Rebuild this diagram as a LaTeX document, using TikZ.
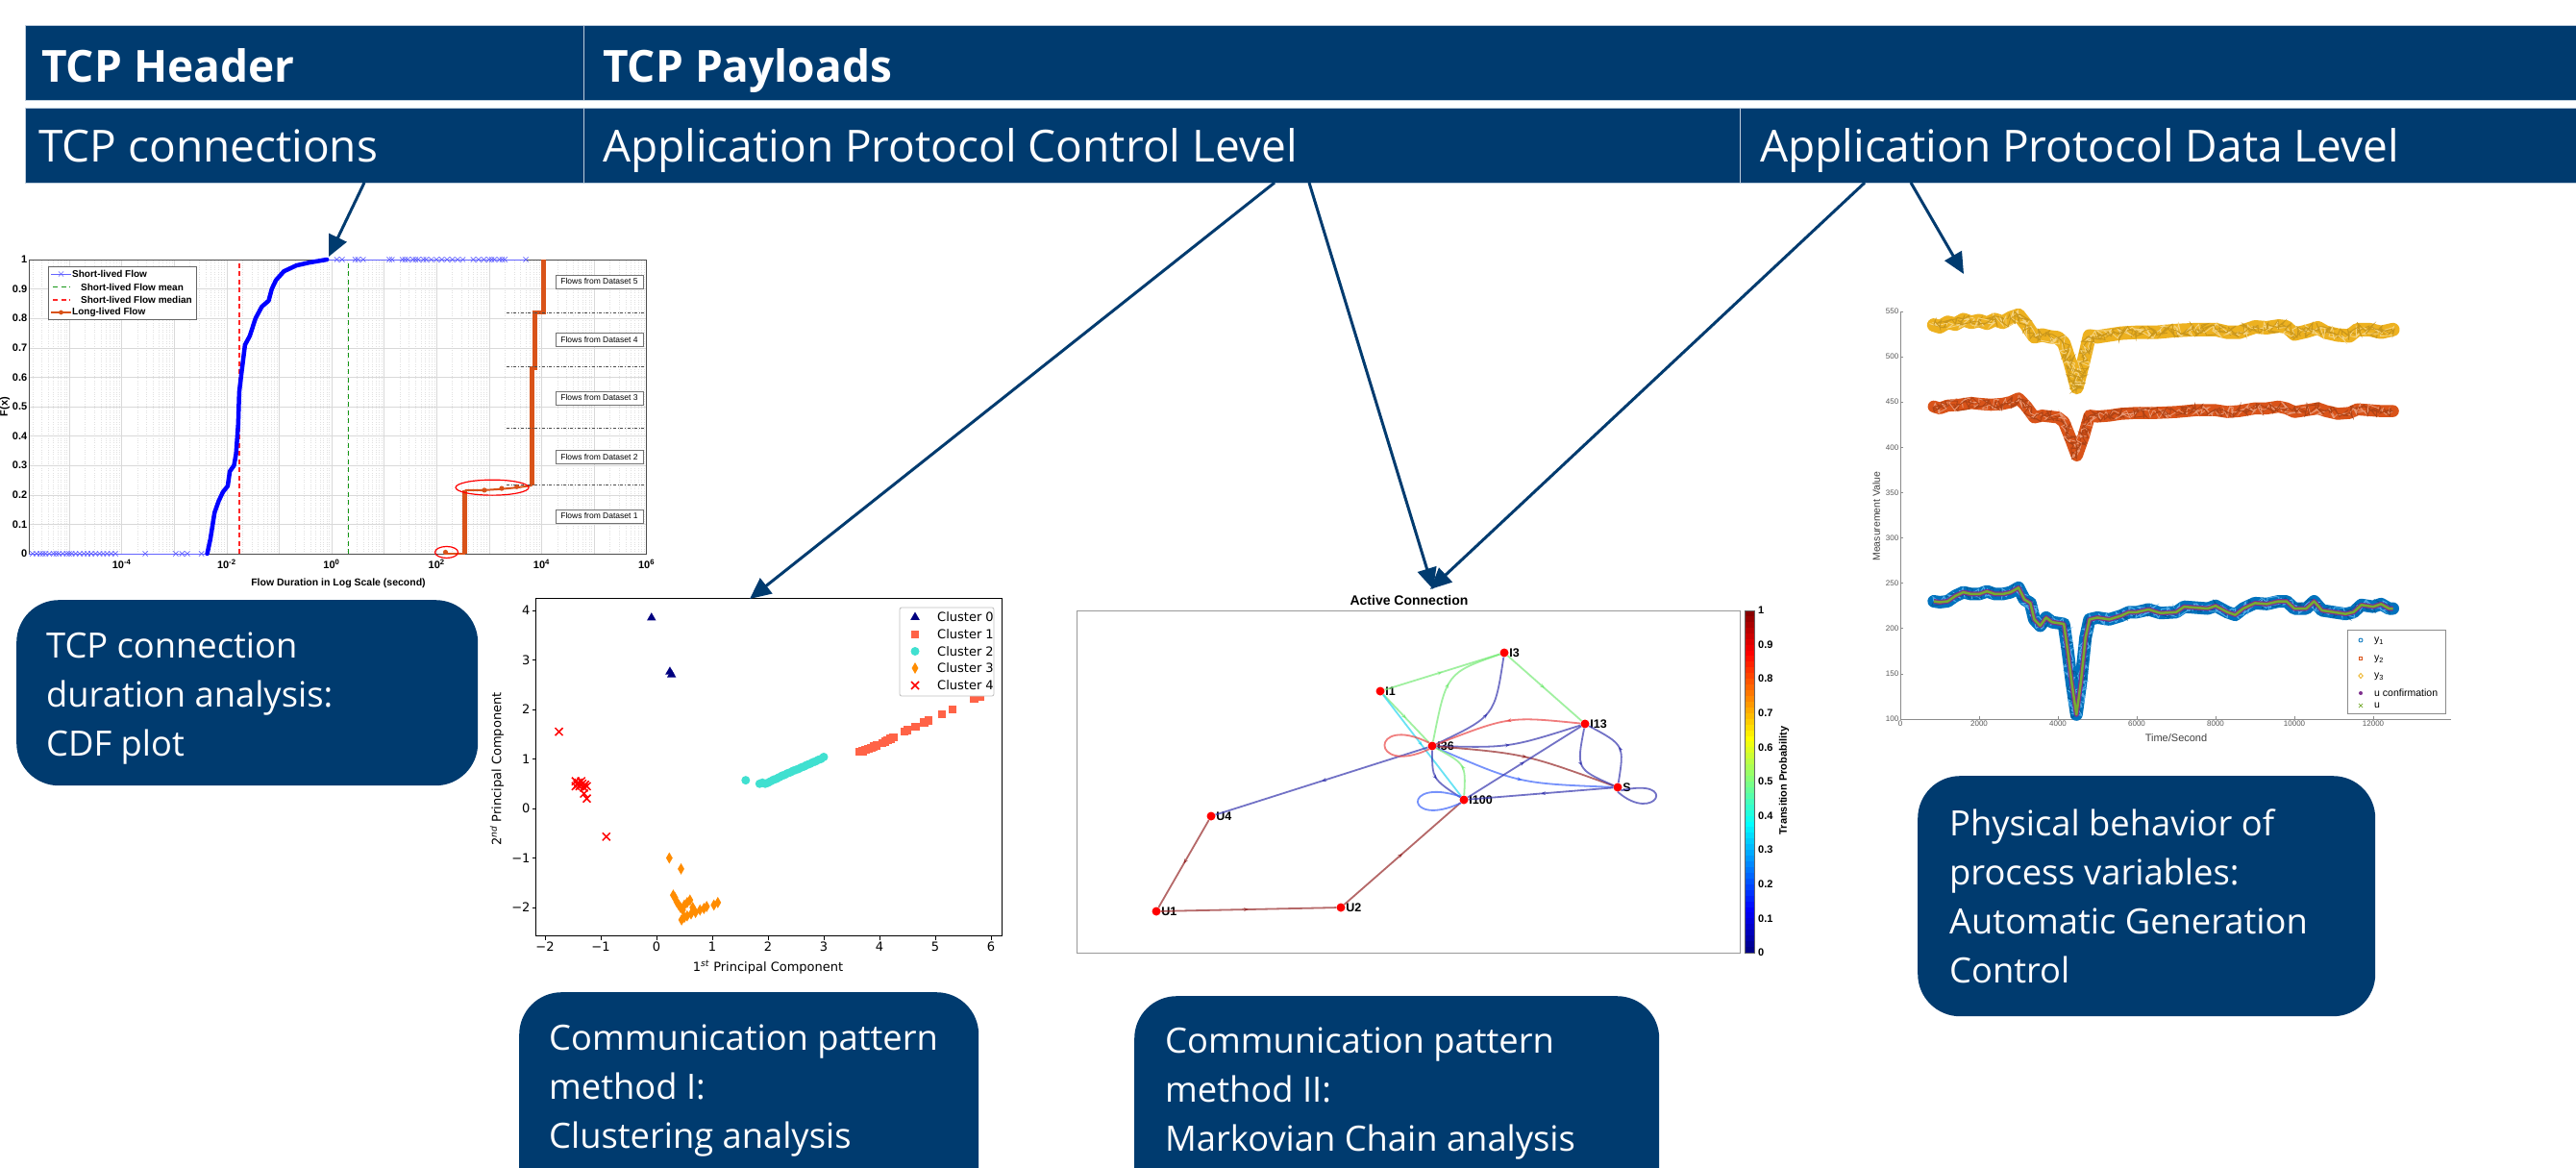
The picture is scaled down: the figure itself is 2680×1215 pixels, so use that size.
\documentclass[tikz,border=0pt]{standalone}
\usepackage{fontspec}
\setmainfont{Open Sans}
\newfontfamily\arialf{Liberation Sans}
\newfontfamily\mplf{DejaVu Sans}
\usetikzlibrary{arrows.meta,shapes.geometric,shapes.misc,decorations.pathmorphing,decorations.markings}

\newcommand\pxsize[1]{\fontsize{#1}{#1}\selectfont}

\definecolor{hdr}{RGB}{0,59,111}
\definecolor{hdredge}{RGB}{190,205,220}
\definecolor{mblue}{RGB}{0,0,255}
\definecolor{mlblue}{RGB}{100,100,255}
\definecolor{morange}{RGB}{217,83,25}
\definecolor{myellow}{RGB}{237,177,32}
\definecolor{mtblue}{RGB}{0,114,189}
\definecolor{mskyblue}{RGB}{80,170,230}
\definecolor{mpurple}{RGB}{126,47,142}
\definecolor{mgreen}{RGB}{119,172,48}
\definecolor{ctomato}{RGB}{255,99,71}
\definecolor{cturq}{RGB}{64,224,208}
\definecolor{corange}{RGB}{255,140,0}
\definecolor{cnavy}{RGB}{0,0,128}
\definecolor{jgreen}{RGB}{120,235,120}
\definecolor{jnavy}{RGB}{55,55,175}
\definecolor{jred}{RGB}{235,70,70}
\definecolor{jdred}{RGB}{150,40,40}
\definecolor{jcyan}{RGB}{40,215,240}
\definecolor{jblue}{RGB}{60,100,250}
\definecolor{medred}{RGB}{255,40,40}
\definecolor{meangreen}{RGB}{20,150,20}

\begin{document}
\begin{tikzpicture}[x=1pt,y=-1pt,
  cell/.style={anchor=north west, fill=hdr, draw=hdredge, line width=1.2pt, inner sep=0pt, minimum height=78pt},
  hdrtext/.style={anchor=base west, inner sep=0pt, text=white, font=\pxsize{46}},
  hdrbold/.style={anchor=base west, inner sep=0pt, text=white, font=\pxsize{46}\bfseries},
  descbox/.style={anchor=north west, fill=hdr, rounded corners=44pt, inner sep=0pt},
  desctext/.style={anchor=base west, inner sep=0pt, text=white, font=\fontsize{36.3}{51}\selectfont},
  linkarrow/.style={draw=hdr, line width=3pt, -{Triangle[length=22pt,width=20pt]}},
  % CDF plot
  cdfminor/.style={draw=black!12, line width=0.4pt, dotted},
  cdfmajor/.style={draw=black!15, line width=0.5pt},
  cdftick/.style={font=\arialf\bfseries\pxsize{11}, inner sep=1.5pt},
  cdfx/.style={cross out, draw=mlblue, minimum size=4.5pt, inner sep=0pt, line width=0.7pt},
  dsbox/.style={draw=black!55, fill=white, font=\arialf\pxsize{8.5}, minimum width=91pt, minimum height=14pt, inner sep=1pt},
  cdflegend/.style={font=\arialf\bfseries\pxsize{10}, anchor=west, inner sep=0pt},
  meddash/.style={medred, line width=1.3pt, dash pattern=on 5pt off 3.5pt},
  meandash/.style={meangreen, line width=1.3pt, dash pattern=on 5pt off 3.5pt},
  % scatter plot
  mpltick/.style={font=\mplf\pxsize{13}, inner sep=2pt},
  ctri/.style={regular polygon, regular polygon sides=3, fill=cnavy, minimum size=11pt, inner sep=0pt},
  csq/.style={rectangle, fill=ctomato, minimum size=8.5pt, inner sep=0pt},
  ccirc/.style={circle, fill=cturq, minimum size=9pt, inner sep=0pt},
  cdia/.style={diamond, fill=corange, minimum width=7pt, minimum height=12pt, inner sep=0pt},
  cx/.style={cross out, draw=red, minimum size=6.5pt, inner sep=0pt, line width=1.5pt},
  % Markov chain
  mknode/.style={circle, fill=red, minimum size=9pt, inner sep=0pt},
  mklabel/.style={font=\arialf\bfseries\pxsize{12.5}, inner sep=0.5pt},
  mkedge/.style={line width=1.8pt, draw opacity=0.7, postaction={decorate},
    decoration={markings, mark=at position 0.5 with {\arrow{Stealth[length=5pt,width=4pt]}}}},
  mkloop/.style={line width=1.8pt, draw opacity=0.7},
  % time series
  tsaxis/.style={draw=black!45, line width=0.7pt},
  tstick/.style={font=\arialf\pxsize{8}, text=black!65, inner sep=1.5pt},
  ythreeband/.style={myellow, line width=14pt, line join=round, line cap=round},
  ythreenoiseA/.style={myellow!85!black, line width=0.9pt, decorate, decoration={random steps, segment length=2.5pt, amplitude=7pt}},
  ythreenoiseB/.style={myellow!55!white, line width=0.8pt, decorate, decoration={random steps, segment length=2pt, amplitude=7pt}},
  ytwoband/.style={morange, line width=12.5pt, line join=round, line cap=round},
  ytwonoiseA/.style={morange!80!black, line width=0.9pt, decorate, decoration={random steps, segment length=2.5pt, amplitude=6pt}},
  ytwonoiseB/.style={morange!60!white, line width=0.8pt, decorate, decoration={random steps, segment length=2pt, amplitude=6pt}},
  yoneband/.style={mtblue, line width=13pt, line join=round, line cap=round},
  yonenoiseA/.style={mskyblue, line width=1pt, decorate, decoration={random steps, segment length=2.5pt, amplitude=6pt}},
  yonenoiseB/.style={mtblue!80!black, line width=0.8pt, decorate, decoration={random steps, segment length=2pt, amplitude=6pt}},
  yonepurple/.style={mpurple, line width=5pt, line join=round},
  yonegreen/.style={mgreen, line width=2.5pt, line join=round},
  tslegend/.style={font=\arialf\pxsize{10.5}, anchor=west, inner sep=0pt}
]
\clip (0,0) rectangle (2680,1215);
\fill[white] (0,0) rectangle (2680,1215);
\pgfmathsetseed{11}

% ---------------- header table ----------------
\node[cell, minimum width=581pt] (cHeader) at (26,26) {};
\node[cell, minimum width=2100pt] (cPayload) at (607,26) {};
\node[cell, minimum width=581pt] (cConn) at (26,112) {};
\node[cell, minimum width=1203pt] (cCtrl) at (607,112) {};
\node[cell, minimum width=900pt] (cData) at (1810,112) {};
\node[hdrbold] (tHeader) at (43,85) {TCP Header};
\node[hdrbold] (tPayload) at (627,85) {TCP Payloads};
\node[hdrtext] (tConn) at (40,168) {TCP connections};
\node[hdrtext] (tCtrl) at (627,168) {Application Protocol Control Level};
\node[hdrtext] (tData) at (1831,168) {Application Protocol Data Level};

% ---------------- description boxes ----------------
\node[descbox, minimum width=480pt, minimum height=193pt] (dCdf) at (17,624) {};
\node[desctext] (dCdfText) at (48,684) {\begin{tabular}[t]{@{}l@{}}TCP connection\\duration analysis:\\CDF plot\end{tabular}};
\node[descbox, minimum width=478pt, minimum height=260pt] (dClu) at (540,1032) {};
\node[desctext] (dCluText) at (571,1092) {\begin{tabular}[t]{@{}l@{}}Communication pattern\\method I:\\Clustering analysis\end{tabular}};
\node[descbox, minimum width=546pt, minimum height=260pt] (dMkv) at (1180,1036) {};
\node[desctext] (dMkvText) at (1212,1095) {\begin{tabular}[t]{@{}l@{}}Communication pattern\\method II:\\Markovian Chain analysis\end{tabular}};
\node[descbox, minimum width=476pt, minimum height=250pt] (dPhy) at (1995,807) {};
\node[desctext] (dPhyText) at (2028,869) {\begin{tabular}[t]{@{}l@{}}Physical behavior of\\process variables:\\Automatic Generation\\Control\end{tabular}};

% ---------------- CDF plot ----------------
\begin{scope}[shift={(345,576)}, x=54.6pt, y=306pt]
  \foreach \d in {-6,...,5}{
    \foreach \m in {2,...,9}{
      \pgfmathsetmacro\gx{\d+log10(\m)}
      \ifdim\gx pt>-5.77pt \draw[cdfminor] (\gx,0) -- (\gx,1); \fi
    }
  }
  \foreach \d in {-5,...,5} \draw[cdfmajor] (\d,0) -- (\d,1);
  \foreach \f in {0.1,0.2,0.3,0.4,0.5,0.6,0.7,0.8,0.9} \draw[cdfmajor] (-5.77,\f) -- (6,\f);
  \draw[black!70, line width=0.7pt] (-5.77,0) rectangle (6,1);
  \foreach \f/\t in {0/0,0.1/0.1,0.2/0.2,0.3/0.3,0.4/0.4,0.5/0.5,0.6/0.6,0.7/0.7,0.8/0.8,0.9/0.9,1/1}
    \node[cdftick, anchor=east] at (-5.77,\f) {\t};
  \foreach \d in {-4,-2,0,2,4,6}
    \node[cdftick, anchor=north] at (\d,-0.015) {10\textsuperscript{\d}};
  % median and mean of short-lived flows
  \draw[meddash] (-1.76,0) -- (-1.76,1);
  \draw[meandash] (0.32,0) -- (0.32,1);
  % short-lived flows
  \draw[mlblue, line width=0.8pt] (-5.77,0) -- (-2.37,0);
  \foreach \p in {-5.7,-5.62,-5.55,-5.5,-5.45,-5.38,-5.3,-5.25,-5.2,-5.12,-5.05,-5.0,-4.95,-4.88,-4.8,-4.72,-4.65,-4.58,-4.5,-4.42,-4.35,-4.28,-4.2,-4.12,-3.55,-2.97,-2.85,-2.75,-2.48}
    \node[cdfx] at (\p,0) {};
  \draw[mlblue, line width=0.8pt] (-0.09,1) -- (3.7,1);
  \foreach \p in {0.1,0.2,0.45,0.5,0.6,1.1,1.15,1.35,1.4,1.45,1.55,1.6,1.65,1.75,1.8,1.9,2.0,2.1,2.2,2.3,2.4,2.5,2.7,2.8,2.9,3.0,3.05,3.1,3.2,3.25,3.3,3.7}
    \node[cdfx] at (\p,1) {};
  \draw[mblue, line width=4.5pt, line join=round, line cap=round]
    (-2.37,0) -- (-2.31,.05) -- (-2.23,.14) -- (-2.15,.18) -- (-2.07,.21) -- (-1.98,.23)
    -- (-1.94,.28) -- (-1.86,.30) -- (-1.82,.34) -- (-1.78,.44) -- (-1.76,.55) -- (-1.72,.61)
    -- (-1.65,.71) -- (-1.56,.74) -- (-1.45,.80) -- (-1.33,.84) -- (-1.2,.86) -- (-1.14,.90)
    -- (-1.06,.93) -- (-0.91,.96) -- (-0.67,.98) -- (-0.42,.99) -- (-0.09,1);
  % long-lived flows
  \draw[morange, line width=2pt] (2.17,0) -- (2.54,0);
  \draw[morange, line width=4.5pt] (2.54,0) -- (2.54,.216);
  \draw[morange, line width=2pt] (2.54,.216) -- (2.91,.216) -- (3.24,.22) -- (3.53,.225) -- (3.82,.232);
  \draw[morange, line width=4.5pt] (3.82,.232) -- (3.82,.63) -- (3.87,.63) -- (3.87,.82) -- (4.04,.82) -- (4.04,1);
  \foreach \x/\y in {2.17/0.005,2.91/0.216,3.24/0.222,3.53/0.228}
    \fill[morange] (\x,\y) circle[radius=2.6pt];
  % dataset separators and labels
  \foreach \f in {0.235,0.426,0.635,0.819}
    \draw[black!70, dash dot, line width=0.6pt] (3.33,\f) -- (6,\f);
  \foreach \n/\f in {5/0.925,4/0.728,3/0.53,2/0.328,1/0.128}
    \node[dsbox] at (5.1,\f) {Flows from Dataset \n};
  % highlighted regions
  \draw[red, line width=1.2pt] (3.06,.225) ellipse [x radius=38pt, y radius=8pt];
  \draw[red, line width=1.2pt] (2.19,.005) ellipse [x radius=12pt, y radius=6pt];
\end{scope}
% CDF legend and axis labels
\draw[black!60, fill=white, line width=0.6pt] (50,277) rectangle (204,332);
\draw[mlblue, line width=0.8pt] (53,285) -- (74,285);
\node[cdfx] at (63.5,285) {};
\node[cdflegend] at (75,285) {Short-lived Flow};
\draw[meandash] (55,298.5) -- (73,298.5);
\node[cdflegend] at (84,298.5) {Short-lived Flow mean};
\draw[meddash] (55,312) -- (73,312);
\node[cdflegend] at (84,312) {Short-lived Flow median};
\draw[morange, line width=1.6pt] (53,325) -- (74,325);
\fill[morange] (63.5,325) circle[radius=2.4pt];
\node[cdflegend] at (75,325) {Long-lived Flow};
\node[cdftick, rotate=90] (cdfYlab) at (5,423) {F(x)};
\node[font=\arialf\bfseries\pxsize{10.5}, inner sep=0pt] (cdfXlab) at (352,607) {Flow Duration in Log Scale (second)};

% ---------------- clustering scatter plot ----------------
\begin{scope}[shift={(683,841)}, x=58pt, y=51.5pt]
  \draw[black, line width=1pt] (-2.16,-2.58) rectangle (6.2,4.25);
  \foreach \v/\t in {-2/−2,-1/−1,0/0,1/1,2/2,3/3,4/4,5/5,6/6}{
    \draw[black, line width=0.8pt] (\v,-2.58) -- ++(0,-4pt);
    \node[mpltick, anchor=north] at (\v,-2.66) {\t};
  }
  \foreach \v/\t in {-2/−2,-1/−1,0/0,1/1,2/2,3/3,4/4}{
    \draw[black, line width=0.8pt] (-2.16,\v) -- ++(-4pt,0);
    \node[mpltick, anchor=east] at (-2.23,\v) {\t};
  }
  \foreach \x/\y in {-0.09/3.85,0.24/2.76,0.27/2.7} \node[ctri] at (\x,\y) {};
  \foreach \x/\y in {3.65/1.15,3.7/1.16,3.75/1.18,3.8/1.2,3.85/1.22,3.9/1.25,3.95/1.27,4.05/1.32,4.1/1.35,4.15/1.38,4.2/1.41,4.25/1.44,4.45/1.55,4.5/1.58,4.65/1.65,4.8/1.74,4.88/1.78,5.12/1.9,5.31/2.0,5.7/2.22,5.8/2.25}
    \node[csq] at (\x,\y) {};
  \foreach \x/\y in {1.6/0.57,1.85/0.5,1.9/0.52,1.95/0.5,2.0/0.52,2.05/0.55,2.1/0.58,2.15/0.6,2.2/0.63,2.25/0.66,2.3/0.68,2.35/0.71,2.4/0.73,2.45/0.76,2.5/0.78,2.55/0.8,2.6/0.83,2.65/0.85,2.7/0.88,2.75/0.9,2.8/0.93,2.85/0.95,2.9/0.98,2.95/1.0,3.0/1.04}
    \node[ccirc] at (\x,\y) {};
  \foreach \x/\y in {0.23/-1.0,0.44/-1.22,0.3/-1.75,0.33/-1.8,0.36/-1.88,0.4/-1.95,0.43/-2.0,0.47/-2.05,0.5/-1.95,0.55/-1.9,0.45/-2.25,0.5/-2.2,0.55/-2.17,0.62/-2.13,0.7/-2.1,0.78/-2.05,0.85/-2.02,0.9/-1.98,0.6/-1.85,0.65/-2.0,1.03/-1.95,1.1/-1.9}
    \node[cdia] at (\x,\y) {};
  \foreach \x/\y in {-1.75/1.55,-1.45/0.55,-1.42/0.48,-1.4/0.52,-1.38/0.45,-1.35/0.55,-1.33/0.5,-1.3/0.42,-1.28/0.48,-1.25/0.45,-1.45/0.45,-1.3/0.3,-1.25/0.2,-0.9/-0.57}
    \node[cx] at (\x,\y) {};
\end{scope}
\draw[black!25, fill=white, rounded corners=2pt, line width=0.8pt] (936,632) rectangle (1034,724);
\node[ctri] at (952,642) {};
\node[csq] at (952,660) {};
\node[ccirc] at (952,677.5) {};
\node[cdia] at (952,695) {};
\node[cx] at (952,713) {};
\foreach \y/\t in {642/0,660/1,677.5/2,695/3,713/4}
  \node[mpltick, anchor=west, inner sep=0pt] at (975,\y) {Cluster \t};
\node[mpltick, rotate=90] (cluYlab) at (517,800) {2\textsuperscript{\textit{nd}} Principal Component};
\node[mpltick] (cluXlab) at (799,1006) {1\textsuperscript{\textit{st}} Principal Component};

% ---------------- Markov chain graph ----------------
\draw[black!40, line width=1pt] (1120,635) rectangle (1810,991);
\node[font=\arialf\bfseries\pxsize{14}, inner sep=0pt] (mkTitle) at (1466,624) {Active Connection};
\node[mknode, label={[mklabel]right:I3}] (I3) at (1565,679) {};
\node[mknode, label={[mklabel]right:I1}] (I1) at (1436,719) {};
\node[mknode, label={[mklabel]right:I13}] (I13) at (1649,753) {};
\node[mknode, label={[mklabel]right:I36}] (I36) at (1490,776) {};
\node[mknode, label={[mklabel]right:S}] (S) at (1683,819) {};
\node[mknode, label={[mklabel]right:I100}] (I100) at (1523,832) {};
\node[mknode, label={[mklabel]right:U4}] (U4) at (1260,849) {};
\node[mknode, label={[mklabel]right:U1}] (U1) at (1203,948) {};
\node[mknode, label={[mklabel]right:U2}] (U2) at (1395,944) {};
\draw[mkedge, jgreen] (I1) -- (I3);
\draw[mkedge, jgreen] (I3) -- (I13);
\draw[mkedge, jgreen] (I1) -- (I36);
\draw[mkedge, jcyan] (I1) -- (I100);
\draw[mkedge, jgreen] (I36) .. controls (1505,700) .. (I3);
\draw[mkedge, jnavy] (I36) .. controls (1555,745) .. (I3);
\draw[mkedge, jred] (I13) .. controls (1570,745) .. (I36);
\draw[mkedge, jnavy] (I36) .. controls (1570,778) .. (I13);
\draw[mkedge, jdred] (I36) .. controls (1586,784) .. (S);
\draw[mkedge, jblue] (I36) .. controls (1580,815) .. (S);
\draw[mkedge, jnavy] (I36) .. controls (1490,810) .. (I100);
\draw[mkedge, jgreen] (I100) .. controls (1525,795) .. (I36);
\draw[mkedge, jnavy] (I100) -- (I13);
\draw[mkedge, jnavy] (I13) .. controls (1640,800) .. (S);
\draw[mkedge, jnavy] (S) .. controls (1690,775) .. (I13);
\draw[mkedge, jnavy] (S) -- (I100);
\draw[mkedge, jnavy] (I36) -- (U4);
\draw[mkedge, jdred] (U4) -- (U1);
\draw[mkedge, jdred] (U1) -- (U2);
\draw[mkedge, jdred] (U2) -- (I100);
\draw[mkloop, jred] (I36.north west) .. controls (1425,742) and (1425,808) .. (I36.south west);
\draw[mkloop, jnavy] (S.south east) .. controls (1748,808) and (1722,858) .. (S.south);
\draw[mkloop, jblue] (I100.north west) .. controls (1458,808) and (1462,862) .. (I100.south west);
% colour bar
\foreach \i in {0,...,59}{
  \pgfmathsetmacro\jv{(\i+0.5)/60}
  \pgfmathsetmacro\jr{max(0,min(1,1.5-abs(4*\jv-3)))}
  \pgfmathsetmacro\jg{max(0,min(1,1.5-abs(4*\jv-2)))}
  \pgfmathsetmacro\jb{max(0,min(1,1.5-abs(4*\jv-1)))}
  \definecolor{jetc}{rgb}{\jr,\jg,\jb}
  \fill[jetc] (1815,{991-5.93333*(\i+1)-0.3}) rectangle (1825,{991-5.93333*\i});
}
\draw[black!60, line width=0.5pt] (1815,635) rectangle (1825,991);
\foreach \i/\t in {0/0,1/0.1,2/0.2,3/0.3,4/0.4,5/0.5,6/0.6,7/0.7,8/0.8,9/0.9,10/1}
  \node[font=\arialf\bfseries\pxsize{11}, anchor=west, inner sep=0pt] at (1829,{991-35.6*\i}) {\t};
\node[font=\arialf\bfseries\pxsize{11}, rotate=90, inner sep=0pt] (cbLab) at (1856,812) {Transition Probability};

% ---------------- process variable time series ----------------
\begin{scope}[shift={(1977,842.2)}, x=0.041pt, y=0.9422pt]
  \draw[tsaxis] (0,100) -- (13975,100);
  \draw[tsaxis] (0,100) -- (0,550);
  \foreach \t in {0,2000,4000,6000,8000,10000,12000}{
    \draw[tsaxis] (\t,100) -- ++(0,3pt);
    \node[tstick, anchor=north] at (\t,100) {\t};
  }
  \foreach \v in {100,150,...,550}{
    \draw[tsaxis] (0,\v) -- ++(3pt,0);
    \node[tstick, anchor=east] at (0,\v) {\v};
  }
  \foreach \st in {ythreeband,ythreenoiseA,ythreenoiseB,ythreenoiseA}
    \draw[\st] (850,535) -- (1000,533) -- (1200,538) -- (1400,536) -- (1600,541) -- (1800,538)
      -- (2000,540) -- (2200,537) -- (2400,541) -- (2600,538) -- (2800,543) -- (3000,546)
      -- (3200,535) -- (3400,522) -- (3600,524) -- (3800,522) -- (4000,521) -- (4150,515)
      -- (4300,495) -- (4480,466) -- (4650,495) -- (4800,523) -- (5000,522) -- (5300,524)
      -- (5600,526) -- (6000,527) -- (6500,527) -- (7000,529) -- (7500,530) -- (8000,530)
      -- (8300,527) -- (8600,527) -- (9000,533) -- (9300,532) -- (9600,534) -- (9800,533)
      -- (10000,525) -- (10300,528) -- (10600,532) -- (10800,527) -- (11100,524) -- (11400,523)
      -- (11600,530) -- (11900,530) -- (12200,527) -- (12500,530);
  \foreach \st in {ytwoband,ytwonoiseA,ytwonoiseB,ytwonoiseA}
    \draw[\st] (850,445) -- (1000,443) -- (1200,446) -- (1500,447) -- (1800,449) -- (2000,448)
      -- (2300,447) -- (2600,448) -- (2800,450) -- (3000,454) -- (3200,445) -- (3400,433)
      -- (3600,435) -- (3800,434) -- (4000,433) -- (4150,428) -- (4300,412) -- (4480,391)
      -- (4650,412) -- (4800,435) -- (5000,434) -- (5300,435) -- (5600,437) -- (6000,438)
      -- (6500,438) -- (7000,439) -- (7500,441) -- (8000,441) -- (8300,439) -- (8600,440)
      -- (9000,443) -- (9300,443) -- (9600,445) -- (9800,443) -- (10000,439) -- (10300,441)
      -- (10600,443) -- (10800,440) -- (11100,437) -- (11400,438) -- (11600,442) -- (11900,441)
      -- (12200,440) -- (12500,440);
  \foreach \st in {yoneband,yonenoiseA,yonenoiseB,yonenoiseA,yonepurple,yonegreen}
    \draw[\st] (850,230) -- (1000,229) -- (1200,230) -- (1400,236) -- (1600,240) -- (1800,238)
      -- (2000,238) -- (2200,241) -- (2400,238) -- (2600,238) -- (2800,240) -- (3000,245)
      -- (3150,232) -- (3300,228) -- (3400,210) -- (3550,203) -- (3700,212) -- (3850,207)
      -- (4000,206) -- (4150,205) -- (4250,175) -- (4350,140) -- (4470,105) -- (4580,140)
      -- (4700,190) -- (4800,210) -- (5000,212) -- (5300,210) -- (5600,214) -- (5800,218)
      -- (6000,218) -- (6300,221) -- (6600,217) -- (7000,218) -- (7200,224) -- (7500,223)
      -- (7800,222) -- (8000,225) -- (8300,218) -- (8500,215) -- (8700,222) -- (9000,228)
      -- (9300,227) -- (9600,230) -- (9800,230) -- (10000,222) -- (10300,222) -- (10500,230)
      -- (10700,220) -- (11000,218) -- (11300,216) -- (11500,218) -- (11700,226) -- (12000,224)
      -- (12200,227) -- (12400,222) -- (12500,222);
\end{scope}
\node[font=\arialf\pxsize{10.5}, text=black!75, rotate=90, inner sep=0pt] (tsYlab) at (1952,537) {Measurement Value};
\node[font=\arialf\pxsize{11}, text=black!75, inner sep=0pt] (tsXlab) at (2264,768) {Time/Second};
\draw[black!45, fill=white, line width=0.7pt] (2442,655) rectangle (2544,742);
\draw[mtblue, line width=0.8pt] (2456,666) circle[radius=2pt];
\draw[morange, line width=0.8pt] (2454.2,683.2) rectangle (2457.8,686.8);
\draw[myellow, line width=0.8pt] (2456,700.5) -- (2458.2,703) -- (2456,705.5) -- (2453.8,703) -- cycle;
\fill[mpurple] (2456,721) circle[radius=2pt];
\node[cross out, draw=mgreen, minimum size=3.5pt, inner sep=0pt, line width=0.7pt] at (2456,734) {};
\node[tslegend] at (2470,667) {y\textsubscript{1}};
\node[tslegend] at (2470,686) {y\textsubscript{2}};
\node[tslegend] at (2470,704) {y\textsubscript{3}};
\node[tslegend] at (2470,721) {u confirmation};
\node[tslegend] at (2470,734) {u};

% ---------------- links from the table to the analyses ----------------
\coordinate (a1s) at (379,190);
\coordinate (cdfTop) at (342,267);
\coordinate (a2s) at (1326,190);
\coordinate (cluTop) at (780,623);
\coordinate (a3s) at (1362,190);
\coordinate (mkTopA) at (1491,613);
\coordinate (a4s) at (1940,190);
\coordinate (mkTopB) at (1488,613);
\coordinate (a5s) at (1988,190);
\coordinate (tsTop) at (2043,285);
\draw[linkarrow] (a1s) -- (cdfTop);
\draw[linkarrow] (a2s) -- (cluTop);
\draw[linkarrow] (a3s) -- (mkTopA);
\draw[linkarrow] (a4s) -- (mkTopB);
\draw[linkarrow] (a5s) -- (tsTop);
\end{tikzpicture}
\end{document}
